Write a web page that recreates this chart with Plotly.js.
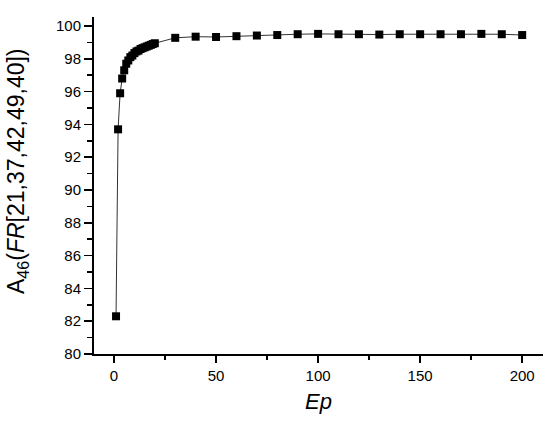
<!DOCTYPE html>
<html>
<head>
<meta charset="utf-8">
<script src="https://cdn.plot.ly/plotly-3.0.1.min.js"></script>
<style>html,body{margin:0;padding:0;background:#fff;}#chart{width:550px;height:424px;}</style>
</head>
<body>
<div id="chart"></div>
<script>
const epochs = [1,2,3,4,5,6,7,8,9,10,11,12,13,14,15,16,17,18,19,20,30,40,50,60,70,80,90,100,110,120,130,140,150,160,170,180,190,200];
const accuracy = [82.3,93.7,95.9,96.8,97.3,97.7,97.9,98.1,98.2,98.35,98.45,98.5,98.6,98.65,98.7,98.75,98.8,98.85,98.9,98.95,99.28,99.35,99.33,99.38,99.42,99.45,99.5,99.52,99.5,99.5,99.48,99.5,99.5,99.5,99.5,99.52,99.5,99.45];
const xTickVals = [0,50,100,150,200];
const yTickVals = [80,82,84,86,88,90,92,94,96,98,100];
const xTitle = '<i>Ep</i>';
const yTitle = 'A<sub>46</sub>(<i>FR</i>[21,37,42,49,40])';

const trace = {
  x: epochs, y: accuracy, type: 'scatter', mode: 'lines+markers',
  line: {color: '#333', width: 1},
  marker: {symbol: 'square', size: 8, color: '#000'},
  showlegend: false
};
const fam = 'Liberation Sans, Arial, sans-serif';
const layout = {
  width: 550, height: 424,
  margin: {l: 94, r: 7, t: 17, b: 70},
  paper_bgcolor: '#fff', plot_bgcolor: '#fff',
  font: {family: fam, color: '#000'},
  xaxis: {
    range: [-9.8, 210.2], tickvals: xTickVals, ticktext: xTickVals.map(String),
    ticks: 'outside', ticklen: 7, tickwidth: 1.5, tickcolor: '#000',
    minor: {dtick: 25, tick0: 0, ticks: 'outside', ticklen: 4, tickwidth: 1.5, tickcolor: '#000'},
    showline: true, linecolor: '#000', linewidth: 2, showgrid: false, zeroline: false,
    tickfont: {size: 15, family: fam, color: '#000'},
    title: {text: xTitle, font: {size: 22, family: fam, color: '#000'}, standoff: 11}
  },
  yaxis: {
    range: [80, 100.55], tickvals: yTickVals, ticktext: yTickVals.map(String),
    ticks: 'outside', ticklen: 8, tickwidth: 1.5, tickcolor: '#000',
    minor: {dtick: 1, tick0: 80, ticks: 'outside', ticklen: 5, tickwidth: 1.5, tickcolor: '#000'},
    showline: true, linecolor: '#000', linewidth: 2, showgrid: false, zeroline: false,
    tickfont: {size: 15, family: fam, color: '#000'}
  },
  annotations: [{
    text: yTitle, xref: 'paper', yref: 'paper',
    x: (17 - 94) / 449, y: (354 - 171) / 337,
    xanchor: 'center', yanchor: 'middle', textangle: -90, showarrow: false,
    font: {size: 23, family: fam, color: '#000'}
  }]
};
Plotly.newPlot('chart', [trace], layout, {displayModeBar: false, staticPlot: true});
</script>
</body>
</html>
